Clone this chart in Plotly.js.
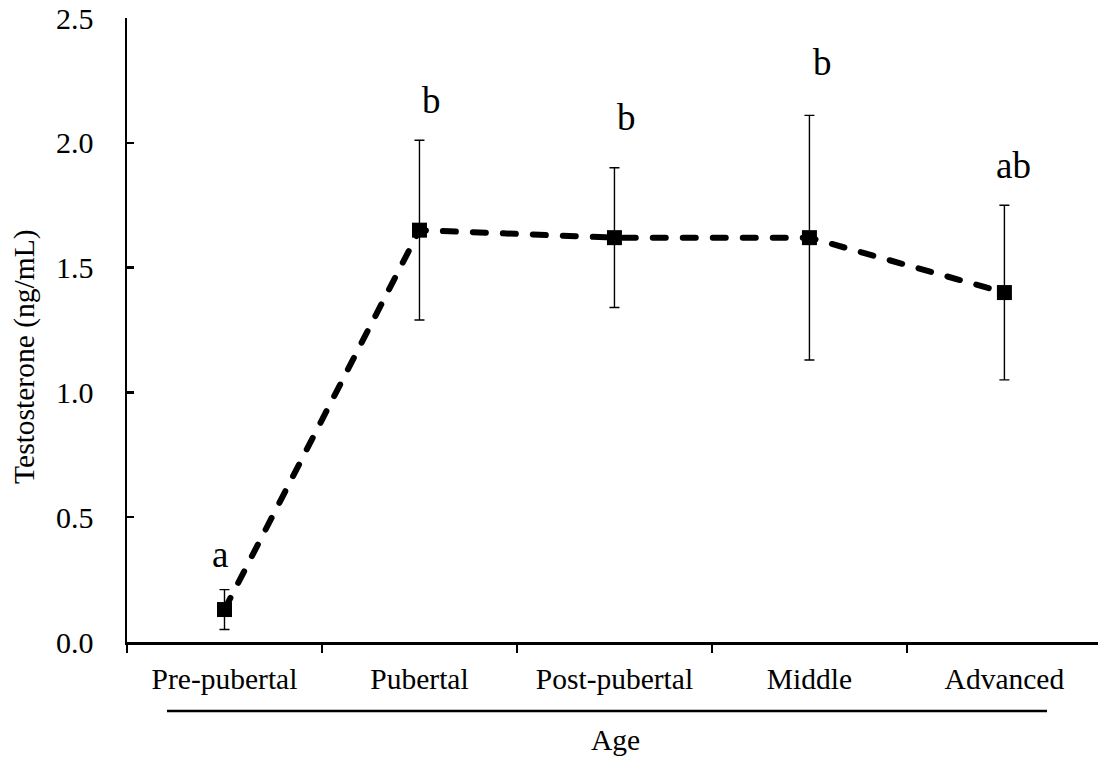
<!DOCTYPE html>
<html>
<head>
<meta charset="utf-8">
<script src="https://cdn.plot.ly/plotly-3.0.1.min.js"></script>
<style>
  html, body { margin: 0; padding: 0; background: #fff; }
  #chart { width: 1098px; height: 759px; }
  /* rounded ends on the dashed connecting line */
  .scatterlayer .js-line { stroke-linecap: round; }
</style>
</head>
<body>
<div id="chart"></div>
<script>
// Age groups and mean serum testosterone (ng/mL) with error bars
const ageGroups = ["Pre-pubertal", "Pubertal", "Post-pubertal", "Middle", "Advanced"];
const testosterone = [0.13, 1.65, 1.62, 1.62, 1.40];
const errorSize = [0.08, 0.36, 0.28, 0.49, 0.35];

// significance letters above each group
const sigLetters = ["a", "b", "b", "b", "ab"];
const letterY = [0.35, 2.17, 2.10, 2.32, 1.91];
const letterShift = [-4, 12, 12, 13, 9];

const FONT = "'Liberation Serif', 'Times New Roman', Times, serif";
const labelSize = 29.5;
const letterSize = 37;

const trace = {
  type: "scatter",
  mode: "lines+markers",
  x: ageGroups,
  y: testosterone,
  line: { color: "#000", width: 6, dash: "13px,17px" },
  marker: { symbol: "square", size: 15, color: "#000" },
  error_y: {
    type: "data",
    symmetric: true,
    array: errorSize,
    color: "#000",
    thickness: 1.4,
    width: 5
  },
  hoverinfo: "x+y",
  showlegend: false
};

const annotations = sigLetters.map((t, i) => ({
  x: ageGroups[i],
  y: letterY[i],
  xref: "x",
  yref: "y",
  text: t,
  showarrow: false,
  xshift: letterShift[i],
  xanchor: "center",
  yanchor: "middle",
  font: { family: FONT, size: letterSize, color: "#000" }
}));

// y-axis title
annotations.push({
  xref: "paper", yref: "paper",
  x: -0.105, y: 0.457,
  text: "Testosterone (ng/mL)",
  textangle: -90,
  showarrow: false,
  xanchor: "center", yanchor: "middle",
  font: { family: FONT, size: labelSize, color: "#000" }
});

// x-axis title
annotations.push({
  xref: "paper", yref: "paper",
  x: 0.5026, y: -0.157,
  text: "Age",
  showarrow: false,
  xanchor: "center", yanchor: "middle",
  font: { family: FONT, size: labelSize, color: "#000" }
});

const layout = {
  width: 1098,
  height: 759,
  margin: { l: 127, r: 0, t: 18, b: 117, pad: 0 },
  paper_bgcolor: "#fff",
  plot_bgcolor: "#fff",
  font: { family: FONT, size: labelSize, color: "#000" },
  xaxis: {
    type: "category",
    categoryarray: ageGroups,
    range: [-0.5, 4.48],
    showline: true,
    linecolor: "#000",
    linewidth: 2.5,
    showgrid: false,
    zeroline: false,
    ticks: "outside",
    tickson: "boundaries",
    ticklen: 8,
    tickwidth: 2.5,
    tickcolor: "#000",
    ticklabelstandoff: 9,
    tickfont: { family: FONT, size: labelSize, color: "#000" }
  },
  yaxis: {
    range: [0, 2.5],
    dtick: 0.5,
    tick0: 0,
    tickformat: ".1f",
    showline: true,
    linecolor: "#000",
    linewidth: 2.5,
    showgrid: false,
    zeroline: false,
    ticks: "inside",
    ticklen: 7,
    tickwidth: 2.5,
    tickcolor: "#000",
    ticklabelstandoff: 25,
    tickfont: { family: FONT, size: 30, color: "#000" }
  },
  shapes: [
    {
      type: "line",
      xref: "paper", yref: "paper",
      x0: 0.0412, x1: 0.9475,
      y0: -0.1106, y1: -0.1106,
      line: { color: "#000", width: 2.5 }
    }
  ],
  annotations: annotations
};

Plotly.newPlot("chart", [trace], layout, { displayModeBar: false, staticPlot: true });
</script>
</body>
</html>
